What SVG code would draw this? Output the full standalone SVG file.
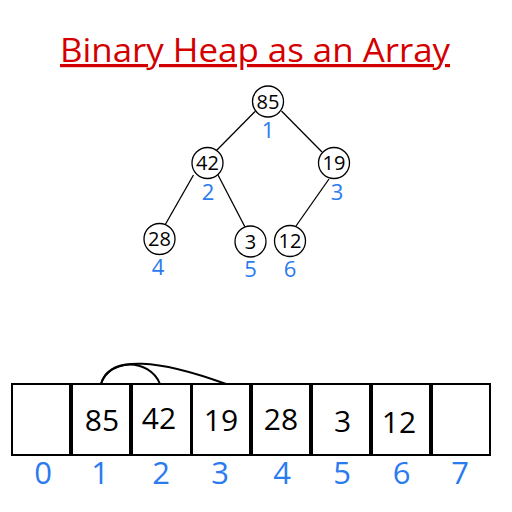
<svg xmlns="http://www.w3.org/2000/svg" width="512" height="512" viewBox="0 0 512 512">
<style>
.node circle{fill:#fff;stroke:#000;stroke-width:1.3}
.val{font-family:"Open Sans","Noto Sans",sans-serif;font-size:20px;fill:#000;text-anchor:middle}
.idx{font-family:"Open Sans","Noto Sans",sans-serif;font-size:22px;fill:#2a7bf0;text-anchor:middle}
.cell rect{fill:#fff;stroke:#000;stroke-width:2}
.cval{font-family:"Open Sans","Noto Sans",sans-serif;font-size:30px;fill:#000;text-anchor:middle}
.cidx{font-family:"Open Sans","Noto Sans",sans-serif;font-size:31px;fill:#2a7bf0;text-anchor:middle}
.edge{stroke:#000;stroke-width:1.3;fill:none}
.arc{stroke:#000;stroke-width:2;fill:none}
</style>
<rect width="512" height="512" fill="#fff"/>
<text x="255" y="62" font-family="'Open Sans','Noto Sans',sans-serif" font-size="32" fill="#d40000" text-anchor="middle" text-decoration="underline" textLength="390" lengthAdjust="spacingAndGlyphs">Binary Heap as an Array</text>
<g id="connectors">
<line class="edge" x1="255" y1="111.5" x2="216" y2="151"/>
<line class="edge" x1="281.5" y1="111" x2="322" y2="152"/>
<line class="edge" x1="193.5" y1="175" x2="165" y2="225"/>
<line class="edge" x1="218" y1="175" x2="245" y2="227"/>
<line class="edge" x1="329" y1="179" x2="296" y2="226"/>
<path class="arc" d="M101 384 C108 358 150 358 160 384"/>
<path class="arc" d="M101 384 C110 354 160 360 226 384"/>
</g>
<g id="n85" class="node"><circle cx="268" cy="101.5" r="15.5"/><text class="val" x="268" y="108.5">85</text><text class="idx" x="268" y="138">1</text></g>
<g id="n42" class="node"><circle cx="207.5" cy="163" r="15.5"/><text class="val" x="207.5" y="170">42</text><text class="idx" x="208" y="200">2</text></g>
<g id="n19" class="node"><circle cx="334" cy="163" r="15.5"/><text class="val" x="334" y="170">19</text><text class="idx" x="337" y="200">3</text></g>
<g id="n28" class="node"><circle cx="159.5" cy="239" r="15.5"/><text class="val" x="159.5" y="246">28</text><text class="idx" x="158" y="275">4</text></g>
<g id="n3" class="node"><circle cx="250.5" cy="241.5" r="15.5"/><text class="val" x="250.5" y="248.5">3</text><text class="idx" x="250.5" y="277">5</text></g>
<g id="n12" class="node"><circle cx="290" cy="241" r="15.5"/><text class="val" x="290" y="248">12</text><text class="idx" x="290" y="277">6</text></g>
<g id="c0" class="cell"><rect x="12" y="384" width="58" height="71"/><text class="cidx" x="43" y="484">0</text></g>
<g id="c1" class="cell"><rect x="72" y="384" width="58" height="71"/><text class="cval" x="102" y="431">85</text><text class="cidx" x="100" y="484">1</text></g>
<g id="c2" class="cell"><rect x="132" y="384" width="59" height="71"/><text class="cval" x="159" y="429">42</text><text class="cidx" x="161" y="484">2</text></g>
<g id="c3" class="cell"><rect x="192" y="384" width="58" height="71"/><text class="cval" x="221" y="431">19</text><text class="cidx" x="220" y="484">3</text></g>
<g id="c4" class="cell"><rect x="252" y="384" width="58" height="71"/><text class="cval" x="281" y="430">28</text><text class="cidx" x="282" y="484">4</text></g>
<g id="c5" class="cell"><rect x="312" y="384" width="58" height="71"/><text class="cval" x="342.5" y="431.5">3</text><text class="cidx" x="342" y="484">5</text></g>
<g id="c6" class="cell"><rect x="372" y="384" width="58" height="71"/><text class="cval" x="399" y="432.5">12</text><text class="cidx" x="401.5" y="484">6</text></g>
<g id="c7" class="cell"><rect x="432" y="384" width="58" height="71"/><text class="cidx" x="460" y="484">7</text></g>
</svg>
